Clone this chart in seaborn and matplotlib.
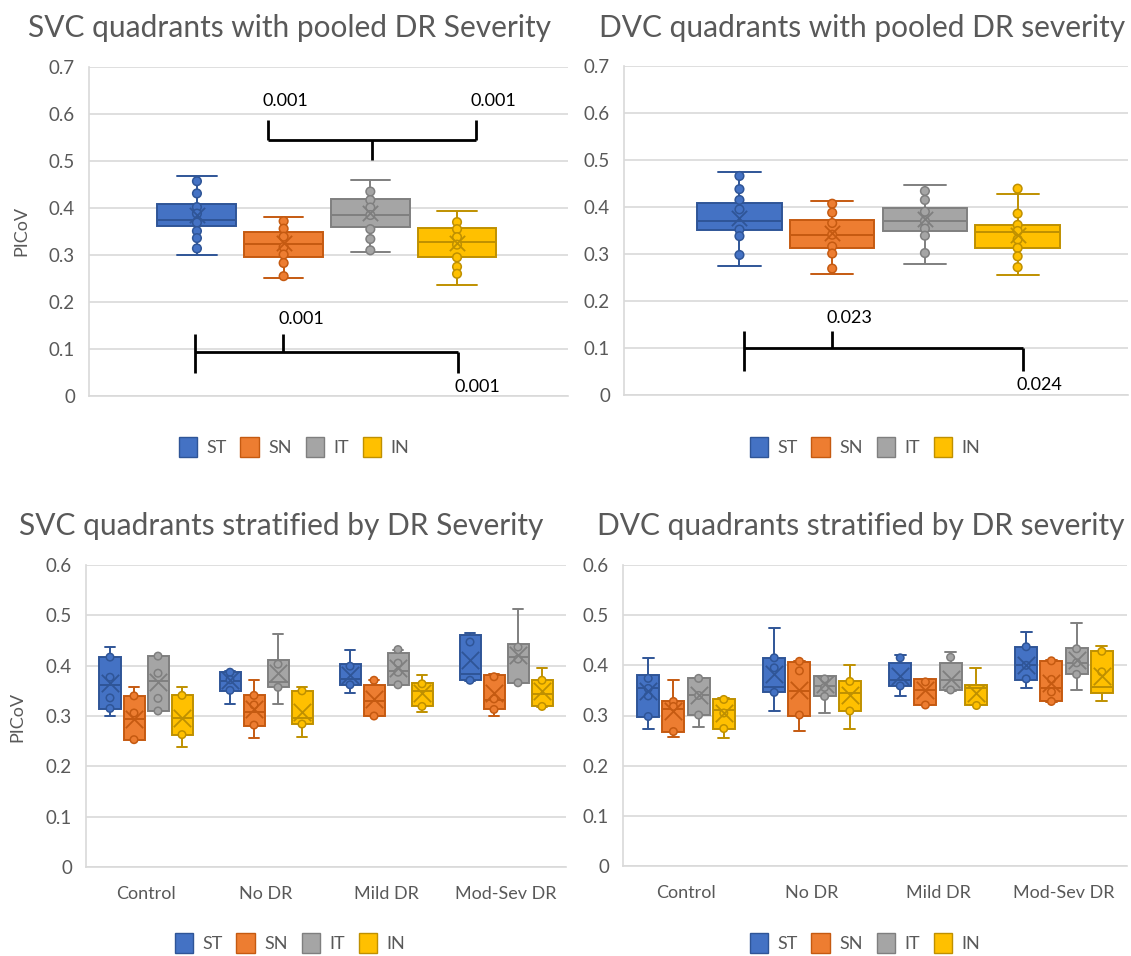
import numpy as np
import pandas as pd
import matplotlib
matplotlib.use("Agg")
import matplotlib.pyplot as plt
from matplotlib.patches import Patch
import seaborn as sns

# ---------------- data ----------------
quadrants = ["ST", "SN", "IT", "IN"]
severity_groups = ["Control", "No DR", "Mild DR", "Mod-Sev DR"]
fill_colors = ["#4472C4", "#ED7D31", "#A5A5A5", "#FFC000"]
edge_colors = ["#2F5597", "#C55A11", "#7F7F7F", "#BF9000"]

# box summaries: [whisker low, Q1, median, Q3, whisker high]
svc_pooled_box = {
    "ST": [0.300, 0.361, 0.374, 0.408, 0.469],
    "SN": [0.251, 0.295, 0.323, 0.350, 0.381],
    "IT": [0.306, 0.360, 0.385, 0.419, 0.459],
    "IN": [0.237, 0.296, 0.327, 0.357, 0.393],
}
svc_pooled_mean = {"ST": 0.385, "SN": 0.325, "IT": 0.390, "IN": 0.325}
svc_pooled_points = {
    "ST": [0.457, 0.431, 0.402, 0.388, 0.369, 0.351, 0.336, 0.314],
    "SN": [0.372, 0.356, 0.339, 0.317, 0.301, 0.283, 0.255],
    "IT": [0.435, 0.417, 0.401, 0.385, 0.355, 0.334, 0.310],
    "IN": [0.370, 0.355, 0.338, 0.322, 0.295, 0.275, 0.260],
}

dvc_pooled_box = {
    "ST": [0.275, 0.352, 0.370, 0.409, 0.474],
    "SN": [0.257, 0.313, 0.341, 0.372, 0.412],
    "IT": [0.278, 0.348, 0.371, 0.397, 0.446],
    "IN": [0.255, 0.313, 0.346, 0.361, 0.428],
}
dvc_pooled_mean = {"ST": 0.377, "SN": 0.344, "IT": 0.374, "IN": 0.341}
dvc_pooled_points = {
    "ST": [0.466, 0.438, 0.415, 0.395, 0.352, 0.338, 0.298],
    "SN": [0.407, 0.388, 0.366, 0.341, 0.316, 0.301, 0.269],
    "IT": [0.434, 0.415, 0.390, 0.370, 0.354, 0.339, 0.302],
    "IN": [0.439, 0.386, 0.362, 0.349, 0.331, 0.313, 0.295, 0.272],
}

svc_strat_box = {
    "ST": [[0.300, 0.313, 0.362, 0.417, 0.438], [0.323, 0.350, 0.370, 0.387, 0.390],
           [0.346, 0.362, 0.373, 0.403, 0.432], [0.370, 0.371, 0.384, 0.460, 0.465]],
    "SN": [[0.253, 0.253, 0.295, 0.340, 0.357], [0.257, 0.281, 0.308, 0.341, 0.371],
           [0.300, 0.300, 0.330, 0.362, 0.371], [0.300, 0.313, 0.332, 0.381, 0.383]],
    "IT": [[0.310, 0.310, 0.370, 0.419, 0.419], [0.323, 0.357, 0.368, 0.411, 0.462],
           [0.362, 0.362, 0.390, 0.426, 0.432], [0.366, 0.366, 0.418, 0.444, 0.512]],
    "IN": [[0.238, 0.263, 0.296, 0.341, 0.357], [0.258, 0.284, 0.296, 0.350, 0.357],
           [0.308, 0.319, 0.350, 0.366, 0.381], [0.318, 0.319, 0.343, 0.372, 0.395]],
}
svc_strat_mean = {
    "ST": [0.366, 0.372, 0.381, 0.411],
    "SN": [0.295, 0.314, 0.333, 0.345],
    "IT": [0.367, 0.385, 0.396, 0.421],
    "IN": [0.297, 0.307, 0.345, 0.350],
}
svc_strat_points = {
    "ST": [[0.417, 0.377, 0.336, 0.315], [0.387, 0.372, 0.351], [0.399, 0.362], [0.447, 0.371]],
    "SN": [[0.340, 0.306, 0.253], [0.341, 0.322, 0.282], [0.371, 0.300], [0.378, 0.334, 0.313]],
    "IT": [[0.419, 0.385, 0.335, 0.310], [0.403, 0.357], [0.432, 0.405, 0.387, 0.362], [0.437, 0.413, 0.366]],
    "IN": [[0.341, 0.263], [0.350, 0.284], [0.364, 0.319], [0.371, 0.319]],
}

dvc_strat_box = {
    "ST": [[0.274, 0.298, 0.355, 0.380, 0.415], [0.309, 0.346, 0.356, 0.415, 0.474],
           [0.339, 0.359, 0.370, 0.404, 0.421], [0.355, 0.371, 0.400, 0.437, 0.466]],
    "SN": [[0.257, 0.268, 0.312, 0.329, 0.371], [0.269, 0.300, 0.349, 0.406, 0.409],
           [0.320, 0.321, 0.350, 0.372, 0.373], [0.327, 0.328, 0.354, 0.409, 0.410]],
    "IT": [[0.278, 0.301, 0.340, 0.374, 0.375], [0.305, 0.338, 0.358, 0.379, 0.379],
           [0.349, 0.351, 0.370, 0.404, 0.426], [0.351, 0.382, 0.405, 0.435, 0.484]],
    "IN": [[0.255, 0.274, 0.311, 0.333, 0.334], [0.273, 0.308, 0.344, 0.369, 0.401],
           [0.320, 0.321, 0.354, 0.361, 0.395], [0.329, 0.344, 0.356, 0.428, 0.439]],
}
dvc_strat_mean = {
    "ST": [0.348, 0.383, 0.379, 0.401],
    "SN": [0.308, 0.350, 0.350, 0.365],
    "IT": [0.340, 0.363, 0.372, 0.410],
    "IN": [0.305, 0.340, 0.345, 0.378],
}
dvc_strat_points = {
    "ST": [[0.374, 0.354, 0.339, 0.298], [0.415, 0.395, 0.346], [0.415, 0.359], [0.437, 0.400, 0.373]],
    "SN": [[0.328, 0.318, 0.268], [0.408, 0.389, 0.301], [0.367, 0.321], [0.409, 0.372, 0.347, 0.328]],
    "IT": [[0.374, 0.340, 0.301], [0.373, 0.356, 0.338], [0.416, 0.351], [0.433, 0.405, 0.382]],
    "IN": [[0.332, 0.305, 0.274], [0.368, 0.309], [0.320], [0.428, 0.387]],
}

titles = ["SVC quadrants with pooled DR Severity", "DVC quadrants with pooled DR severity",
          "SVC quadrants stratified by DR Severity", "DVC quadrants stratified by DR severity"]
y_label = "PICoV"
top_yticks = [0, 0.1, 0.2, 0.3, 0.4, 0.5, 0.6, 0.7]
bottom_yticks = [0, 0.1, 0.2, 0.3, 0.4, 0.5, 0.6]

# significance annotations (p-values)
svc_upper_p = ["0.001", "0.001"]
svc_lower_p = ["0.001", "0.001"]
dvc_lower_p = ["0.023", "0.024"]

# ---------------- style ----------------
sns.set_theme(style="white")
plt.rcParams["font.family"] = ["Lato", "DejaVu Sans"]
GRID = "#D9D9D9"
TXT = "#595959"

fig = plt.figure(figsize=(11.31, 9.56), dpi=100)
W, H = 1131, 956


def add_axes(x0, x1, y_top, y_bot):
    return fig.add_axes([x0 / W, 1 - y_bot / H, (x1 - x0) / W, (y_bot - y_top) / H])


ax_tl = add_axes(89, 568, 67, 396)
ax_tr = add_axes(624, 1128, 66, 395)
ax_bl = add_axes(86, 566, 565, 867)
ax_br = add_axes(623, 1127, 565, 866)

pal_fill = dict(zip(quadrants, fill_colors))
pal_edge = dict(zip(quadrants, edge_colors))


def frames(groups, box, mean, points):
    b, m, p = [], [], []
    for q in quadrants:
        for gi, g in enumerate(groups):
            bx = box[q][gi] if isinstance(box[q][0], list) else box[q]
            mn = mean[q][gi] if isinstance(mean[q], list) else mean[q]
            pt = points[q][gi] if isinstance(points[q][0], list) else points[q]
            b += [(g, q, v) for v in bx]
            m.append((g, q, mn))
            p += [(g, q, v) for v in pt]
    cols = ["group", "quad", "value"]
    return (pd.DataFrame(b, columns=cols), pd.DataFrame(m, columns=cols),
            pd.DataFrame(p, columns=cols))


def draw(ax, groups, box, mean, points, gap, pt_size, mean_size):
    bdf, mdf, pdf = frames(groups, box, mean, points)
    for q in quadrants:
        common = dict(x="group", y="value", hue="quad", order=groups, hue_order=quadrants,
                      legend=False, ax=ax)
        sns.boxplot(data=bdf[bdf.quad == q], palette=pal_fill, width=0.8, gap=gap,
                    whis=(0, 100), saturation=1, linecolor=pal_edge[q], linewidth=1.4,
                    fliersize=0, dodge=True, **common)
        sns.stripplot(data=pdf[pdf.quad == q], palette=pal_fill, dodge=True, jitter=False,
                      size=pt_size, edgecolor=pal_edge[q], linewidth=1.1, zorder=3, **common)
        sns.stripplot(data=mdf[mdf.quad == q], palette=pal_edge, dodge=True, jitter=False,
                      size=mean_size, marker="x", edgecolor=pal_edge[q], linewidth=1.3,
                      zorder=4, **common)


def style(ax, yticks, show_x):
    ax.set_ylim(yticks[0], yticks[-1])
    ax.set_yticks(yticks, [("%g" % t) for t in yticks])
    ax.yaxis.grid(True, color=GRID, linewidth=1.2)
    ax.set_axisbelow(True)
    for s in ["top", "right"]:
        ax.spines[s].set_visible(False)
    for s in ["left", "bottom"]:
        ax.spines[s].set_color(GRID)
        ax.spines[s].set_linewidth(1.2)
    ax.tick_params(axis="y", length=0, pad=10, labelsize=13.5, labelcolor=TXT)
    ax.tick_params(axis="x", length=0, pad=14, labelsize=13, labelcolor=TXT)
    ax.set_xlabel("")
    ax.set_ylabel("")
    if not show_x:
        ax.set_xticks([])


draw(ax_tl, ["pooled"], svc_pooled_box, svc_pooled_mean, svc_pooled_points, 0.09, 6.2, 11)
draw(ax_tr, ["pooled"], dvc_pooled_box, dvc_pooled_mean, dvc_pooled_points, 0.09, 6.2, 11)
draw(ax_bl, severity_groups, svc_strat_box, svc_strat_mean, svc_strat_points, 0.125, 5.4, 12.5)
draw(ax_br, severity_groups, dvc_strat_box, dvc_strat_mean, dvc_strat_points, 0.125, 5.4, 12.5)

style(ax_tl, top_yticks, False)
style(ax_tr, top_yticks, False)
style(ax_bl, bottom_yticks, True)
style(ax_br, bottom_yticks, True)
ax_tl.set_xlim(-0.549, 0.556)
ax_tr.set_xlim(-0.549, 0.538)
ax_bl.set_xlim(-0.5, 3.5)
ax_br.set_xlim(-0.5, 3.5)


# ---------------- significance brackets ----------------
def bracket(ax, x_left, x_right, x_stem, y_bar, y_top, y_bot, stem_up):
    kw = dict(color="black", linewidth=2, solid_capstyle="butt", zorder=5)
    ax.plot([x_left, x_right], [y_bar, y_bar], **kw)
    if stem_up:
        ax.plot([x_left, x_left], [y_top, y_bar], **kw)
        ax.plot([x_right, x_right], [y_top, y_bar], **kw)
        ax.plot([x_stem, x_stem], [y_bar, y_bot], **kw)
    else:
        ax.plot([x_left, x_left], [y_top, y_bot], **kw)
        ax.plot([x_right, x_right], [y_bar, y_bot], **kw)
        ax.plot([x_stem, x_stem], [y_top, y_bar], **kw)


ann = dict(fontsize=13, color="black", ha="center", va="center", zorder=6)
# top-left upper bracket (IT vs SN / IN)
bracket(ax_tl, -0.137, 0.344, 0.105, 0.545, 0.588, 0.503, True)
ax_tl.text(-0.095, 0.627, svc_upper_p[0], **ann)
ax_tl.text(0.383, 0.627, svc_upper_p[1], **ann)
# top-left lower bracket (ST vs SN / IN)
bracket(ax_tl, -0.305, 0.302, -0.101, 0.094, 0.132, 0.050, False)
ax_tl.text(-0.060, 0.163, svc_lower_p[0], **ann)
ax_tl.text(0.346, 0.020, svc_lower_p[1], **ann)
# top-right lower bracket
bracket(ax_tr, -0.290, 0.312, -0.100, 0.100, 0.137, 0.052, False)
ax_tr.text(-0.062, 0.163, dvc_lower_p[0], **ann)
ax_tr.text(0.348, 0.022, dvc_lower_p[1], **ann)

# ---------------- titles, labels, legends ----------------
for (cx, cy), t in zip([(290, 28), (862, 28), (281, 526), (861, 526)], titles):
    fig.text(cx / W, 1 - cy / H, t, ha="center", va="center", fontsize=21.5, color=TXT)

fig.text(21 / W, 1 - 231 / H, y_label, rotation=90, ha="center", va="center",
         fontsize=13, color=TXT)
fig.text(17.5 / W, 1 - 717 / H, y_label, rotation=90, ha="center", va="center",
         fontsize=13, color=TXT)

handles = [Patch(facecolor=f, edgecolor=e, linewidth=1) for f, e in zip(fill_colors, edge_colors)]
for cx, cy in [(294, 447), (865, 447), (290, 943), (865, 943)]:
    fig.legend(handles, quadrants, loc="center", bbox_to_anchor=(cx / W, 1 - cy / H),
               ncol=4, frameon=False, fontsize=13, labelcolor=TXT, handlelength=1.0,
               handleheight=1.3, handletextpad=0.55, columnspacing=0.75, borderpad=0)

fig.savefig("out.png", dpi=100)
